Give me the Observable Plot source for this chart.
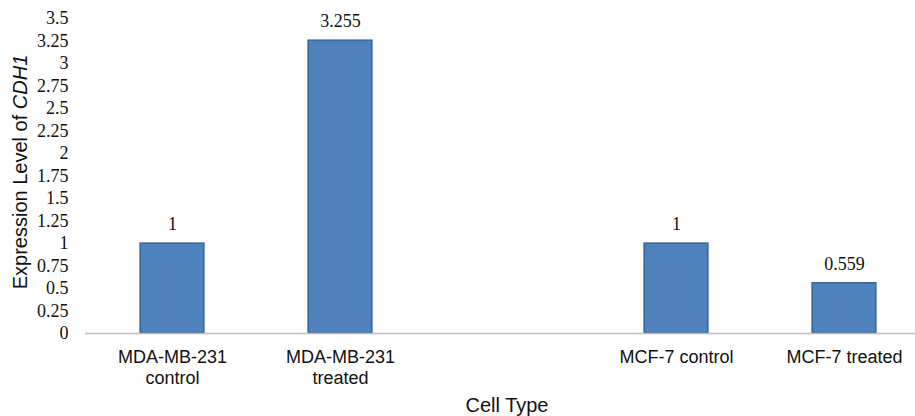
<!DOCTYPE html>
<html>
<head>
<meta charset="utf-8">
<script src="https://cdn.jsdelivr.net/npm/d3@7"></script>
<script src="https://cdn.jsdelivr.net/npm/@observablehq/plot@0.6"></script>
<style>
  html, body { margin: 0; padding: 0; background: #fff; }
  #chart svg { display: block; }
</style>
</head>
<body>
<div id="chart"></div>
<script>
// Relative CDH1 expression per cell line / treatment
const cellTypes = ["MDA-MB-231\ncontrol", "MDA-MB-231\ntreated", "MCF-7 control", "MCF-7 treated"];
const expression = [1, 3.255, 1, 0.559];
const valueLabels = ["1", "3.255", "1", "0.559"];
const yTicks = [0, 0.25, 0.5, 0.75, 1, 1.25, 1.5, 1.75, 2, 2.25, 2.5, 2.75, 3, 3.25, 3.5];
const yTickLabels = ["0", "0.25", "0.5", "0.75", "1", "1.25", "1.5", "1.75", "2", "2.25", "2.5", "2.75", "3", "3.25", "3.5"];

// an empty slot separates the two cell lines on the category axis
const spacer = " ";
const xDomain = [cellTypes[0], cellTypes[1], spacer, cellTypes[2], cellTypes[3]];

const rows = cellTypes.map((c, i) => ({cell: c, value: expression[i], label: valueLabels[i]}));

const W = 915, H = 416;
const sans = "'Liberation Sans', Arial, sans-serif";
const serif = "'Liberation Serif', 'Times New Roman', serif";

const chart = Plot.plot({
  width: W,
  height: H,
  marginLeft: 85,
  marginRight: 0,
  marginTop: 18,
  marginBottom: 83,
  style: {background: "#fff", overflow: "visible"},
  x: {domain: xDomain, range: [86.25, 928.75], paddingInner: 0.62, paddingOuter: 0.31, align: 0.5},
  y: {domain: [0, 3.5]},
  marks: [
    Plot.barY(rows, {x: "cell", y: "value", fill: "#4f81bd", stroke: "#2f5d94", strokeWidth: 1.2}),
    Plot.ruleY([0], {stroke: "#bdbdbd", strokeWidth: 1.5}),
    Plot.text(rows, {x: "cell", y: "value", text: "label", dy: -19, lineAnchor: "middle",
      fontFamily: serif, fontSize: 18, fill: "#111"}),
    Plot.axisY(yTicks, {tickSize: 0, tickPadding: 17, label: null,
      tickFormat: (d) => yTickLabels[yTicks.indexOf(d)],
      fontFamily: serif, fontSize: 18, fill: "#111"}),
    Plot.axisX({tickSize: 0, tickPadding: 14, label: null, lineAnchor: "top", lineHeight: 1.2,
      tickFormat: (d) => (d === spacer ? "" : d),
      fontFamily: sans, fontSize: 18, fill: "#111"})
  ]
});

const svg = d3.select(chart);

// vertical axis title with the gene name set in italics
const yTitle = svg.append("text")
  .attr("transform", "translate(27,172) rotate(-90)")
  .attr("text-anchor", "middle")
  .attr("font-family", sans)
  .attr("font-size", 20)
  .attr("fill", "#111");
yTitle.append("tspan").text("Expression Level of ");
yTitle.append("tspan").attr("font-style", "italic").text("CDH1");

// horizontal axis title
svg.append("text")
  .attr("x", 507)
  .attr("y", 412)
  .attr("text-anchor", "middle")
  .attr("font-family", sans)
  .attr("font-size", 20)
  .attr("fill", "#111")
  .text("Cell Type");

document.getElementById("chart").append(chart);
</script>
</body>
</html>
